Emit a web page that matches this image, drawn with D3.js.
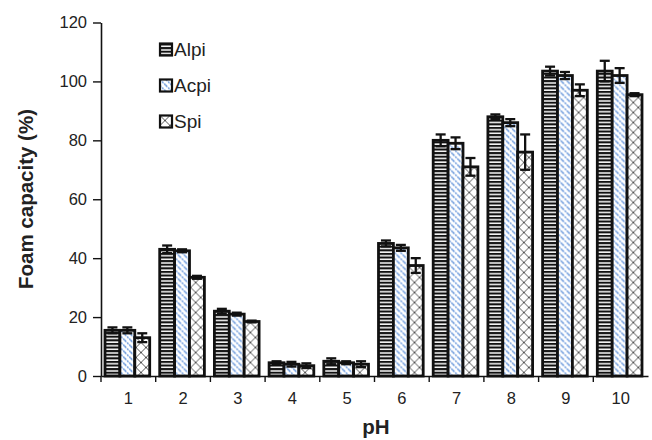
<!DOCTYPE html>
<html>
<head>
<meta charset="utf-8">
<script src="https://cdn.jsdelivr.net/npm/d3@7"></script>
<style>
  body { margin: 0; background: #fff; }
  text { font-family: "Liberation Sans", Arial, sans-serif; }
</style>
</head>
<body>
<div class="chart"></div>
<script>
// chart data
var phLevels = ["1", "2", "3", "4", "5", "6", "7", "8", "9", "10"];
var seriesNames = ["Alpi", "Acpi", "Spi"];
var alpi = [15.5, 43, 22, 4.5, 5, 45, 80, 88, 103.5, 103.5];
var acpi = [15.5, 42.5, 21, 4, 4.5, 43.5, 79, 86, 102, 102];
var spi = [13, 33.5, 18.5, 3.5, 4, 37.5, 71, 76, 97, 95.5];
var alpiErr = [1, 1.3, 0.8, 0.5, 1, 1, 2, 0.8, 1.5, 3.5];
var acpiErr = [1, 0.5, 0.5, 0.8, 0.5, 1, 2, 1.2, 1.2, 2.5];
var spiErr = [1.5, 0.5, 0.3, 0.8, 1, 2.5, 3, 6, 2, 0.5];
var yTicks = [0, 20, 40, 60, 80, 100, 120];

var svgWidth = 652;
var svgHeight = 440;
var margin = {top: 22.5, right: 4, bottom: 64, left: 101};
var chartWidth = svgWidth - margin.left - margin.right;
var chartHeight = svgHeight - margin.top - margin.bottom;

var svg = d3.select(".chart")
  .append("svg")
  .attr("width", svgWidth)
  .attr("height", svgHeight);

// fill patterns
var defs = svg.append("defs");

var p1 = defs.append("pattern")
  .attr("id", "pat-alpi")
  .attr("patternUnits", "userSpaceOnUse")
  .attr("width", 8).attr("height", 3.6);
p1.append("rect").attr("width", 8).attr("height", 3.6).attr("fill", "#fff");
p1.append("rect").attr("y", 0).attr("width", 8).attr("height", 2.1).attr("fill", "#111");

var p2 = defs.append("pattern")
  .attr("id", "pat-acpi")
  .attr("patternUnits", "userSpaceOnUse")
  .attr("width", 6).attr("height", 6);
p2.append("rect").attr("width", 6).attr("height", 6).attr("fill", "#fff");
[[0, 0, 6, 6], [-3, 3, 3, 9], [3, -3, 9, 3]].forEach(function(c) {
  p2.append("line")
    .attr("x1", c[0]).attr("y1", c[1]).attr("x2", c[2]).attr("y2", c[3])
    .attr("stroke", "#4f86d6").attr("stroke-width", 1.3)
    .attr("stroke-dasharray", "2,1");
});

var p3 = defs.append("pattern")
  .attr("id", "pat-spi")
  .attr("patternUnits", "userSpaceOnUse")
  .attr("width", 10).attr("height", 10);
p3.append("rect").attr("width", 10).attr("height", 10).attr("fill", "#fff");
p3.append("path")
  .attr("d", "M0,0L10,10M10,0L0,10")
  .attr("stroke", "#555").attr("stroke-width", 1);

var fills = ["url(#pat-alpi)", "url(#pat-acpi)", "url(#pat-spi)"];

var chart = svg.append("g")
  .attr("transform", `translate(${margin.left},${margin.top})`);

// scales
var x0 = d3.scaleBand().domain(phLevels).range([0, chartWidth]);
var x1 = d3.scaleBand().domain(seriesNames).range([4, x0.bandwidth() - 6]);
var y = d3.scaleLinear().domain([0, 120]).range([chartHeight, 0]);

var tableData = phLevels.map(function(p, i) {
  return {
    ph: p,
    bars: [
      {name: "Alpi", value: alpi[i], err: alpiErr[i]},
      {name: "Acpi", value: acpi[i], err: acpiErr[i]},
      {name: "Spi", value: spi[i], err: spiErr[i]}
    ]
  };
});

var groups = chart.selectAll(".grp")
  .data(tableData)
  .enter()
  .append("g")
  .attr("class", "grp")
  .attr("transform", function(d) { return `translate(${x0(d.ph)},0)`; });

groups.selectAll("rect")
  .data(function(d) { return d.bars; })
  .enter()
  .append("rect")
  .attr("x", function(d) { return x1(d.name); })
  .attr("y", function(d) { return y(d.value); })
  .attr("width", x1.bandwidth())
  .attr("height", function(d) { return chartHeight - y(d.value); })
  .attr("fill", function(d, i) { return fills[i]; })
  .attr("stroke", "#111")
  .attr("stroke-width", 2.8);

// error bars
var errs = groups.selectAll(".err")
  .data(function(d) { return d.bars; })
  .enter()
  .append("g")
  .attr("class", "err")
  .attr("stroke", "#111")
  .attr("stroke-width", 2.3);

function cx(d) { return x1(d.name) + x1.bandwidth() / 2; }

errs.append("line")
  .attr("x1", cx)
  .attr("x2", cx)
  .attr("y1", function(d) { return y(d.value - d.err); })
  .attr("y2", function(d) { return y(d.value + d.err); });
errs.append("line")
  .attr("x1", function(d) { return cx(d) - 5; })
  .attr("x2", function(d) { return cx(d) + 5; })
  .attr("y1", function(d) { return y(d.value + d.err); })
  .attr("y2", function(d) { return y(d.value + d.err); });
errs.append("line")
  .attr("x1", function(d) { return cx(d) - 5; })
  .attr("x2", function(d) { return cx(d) + 5; })
  .attr("y1", function(d) { return y(d.value - d.err); })
  .attr("y2", function(d) { return y(d.value - d.err); });

// y axis
var leftAxis = d3.axisLeft(y).tickValues(yTicks).tickSize(8).tickSizeOuter(0).tickPadding(6);
var gy = chart.append("g").call(leftAxis);
gy.select(".domain").attr("stroke", "#111").attr("stroke-width", 1.6);
gy.selectAll(".tick line").attr("stroke", "#111").attr("stroke-width", 1.4);
gy.selectAll("text").attr("font-size", "16.5px").attr("fill", "#222")
  .style("font-family", "'Liberation Sans', Arial, sans-serif");

// x axis: ticks between categories
var bottomAxis = d3.axisBottom(x0).tickSize(0).tickPadding(16);
var gx = chart.append("g")
  .attr("transform", `translate(0,${chartHeight})`)
  .call(bottomAxis);
gx.select(".domain").attr("stroke", "#111").attr("stroke-width", 1.6);
gx.selectAll("text").attr("font-size", "16.5px").attr("fill", "#222")
  .style("font-family", "'Liberation Sans', Arial, sans-serif");

chart.append("g")
  .selectAll("line")
  .data(phLevels)
  .enter()
  .append("line")
  .attr("x1", function(d) { return x0(d); })
  .attr("x2", function(d) { return x0(d); })
  .attr("y1", chartHeight)
  .attr("y2", chartHeight + 6)
  .attr("stroke", "#111")
  .attr("stroke-width", 1.4);

// axis labels
svg.append("text")
  .attr("transform", "translate(33,199) rotate(-90)")
  .attr("text-anchor", "middle")
  .attr("font-size", "20.5px")
  .attr("font-weight", "bold")
  .attr("fill", "#222")
  .text("Foam capacity (%)");

svg.append("text")
  .attr("x", 376)
  .attr("y", 434)
  .attr("text-anchor", "middle")
  .attr("font-size", "20.5px")
  .attr("font-weight", "bold")
  .attr("fill", "#222")
  .text("pH");

// legend
var legend = svg.append("g")
  .selectAll("g")
  .data(seriesNames)
  .enter()
  .append("g")
  .attr("transform", function(d, i) { return `translate(160,${43.5 + i * 36})`; });

legend.append("rect")
  .attr("width", 12)
  .attr("height", 12)
  .attr("fill", function(d, i) { return fills[i]; })
  .attr("stroke", "#111")
  .attr("stroke-width", 2.2);

legend.append("text")
  .attr("x", 14)
  .attr("y", 12.5)
  .attr("font-size", "19px")
  .attr("fill", "#222")
  .text(function(d) { return d; });
</script>
</body>
</html>
